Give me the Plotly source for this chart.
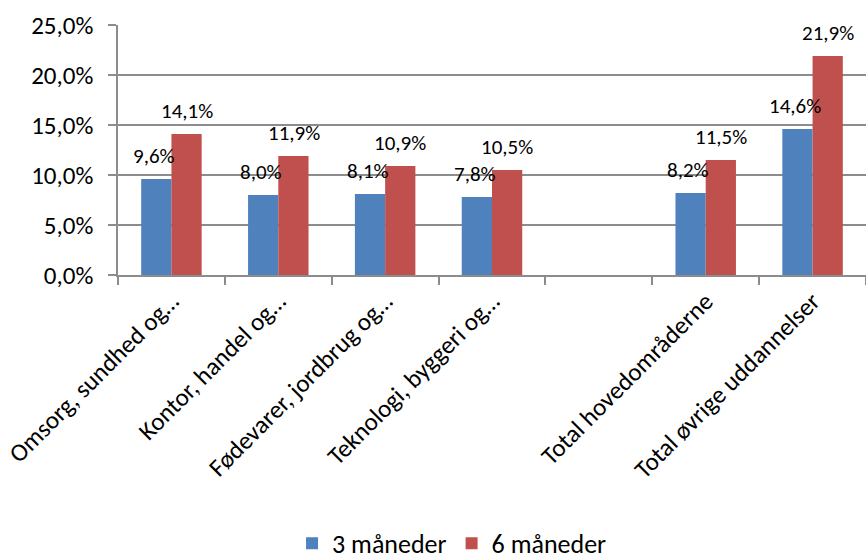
import plotly.graph_objects as go

categories = ["Omsorg, sundhed og…", "Kontor, handel og…", "Fødevarer, jordbrug og…",
              "Teknologi, byggeri og…", " ", "Total hovedområderne", "Total øvrige uddannelser"]
m3 = [9.6, 8.0, 8.1, 7.8, None, 8.2, 14.6]
m6 = [14.1, 11.9, 10.9, 10.5, None, 11.5, 21.9]
series_names = ["3 måneder", "6 måneder"]
colors = ["#4F81BD", "#C0504D"]

FONT = "Carlito, Lato, sans-serif"

def fmt(v):
    return ("%.1f%%" % v).replace(".", ",")

fig = go.Figure()
for name, vals, col in [(series_names[0], m3, colors[0]), (series_names[1], m6, colors[1])]:
    fig.add_trace(go.Bar(
        x=categories, y=vals, name=name, marker_color=col,
        marker_line_width=0,
    ))

# data labels, placed above each bar
BAR_HALF = 15.3
for vals, shift in [(m3, -BAR_HALF - 2), (m6, BAR_HALF)]:
    for c, v in zip(categories, vals):
        if v is None:
            continue
        fig.add_annotation(x=c, y=v, xref="x", yref="y", text=fmt(v),
                           showarrow=False, xshift=shift, yshift=23,
                           yanchor="middle", xanchor="center",
                           font=dict(family=FONT, size=21, color="#000000"))

yticks = [0, 5, 10, 15, 20, 25]
fig.update_layout(
    width=866, height=559,
    margin=dict(l=118, r=0, t=25, b=284, autoexpand=False),
    paper_bgcolor="white", plot_bgcolor="white",
    barmode="group", bargap=0.434, bargroupgap=0,
    font=dict(family=FONT, size=25, color="#000000"),
    showlegend=True,
    legend=dict(orientation="h", xref="container", yref="container",
                x=0.522, xanchor="center", y=0.028, yanchor="middle",
                font=dict(family=FONT, size=26), itemwidth=30,
                traceorder="normal"),
)
fig.update_yaxes(
    range=[0, 25], tickvals=yticks, ticktext=[fmt(v) for v in yticks],
    showgrid=True, gridcolor="#8C8C8C", gridwidth=1.5,
    showline=True, linecolor="#8C8C8C", linewidth=1.5,
    ticks="outside", ticklen=8, tickcolor="#8C8C8C", tickwidth=1.5,
    ticklabelstandoff=10,
    zeroline=False, tickfont=dict(size=25, family=FONT), automargin=False,
)
fig.update_xaxes(
    type="category", tickangle=-45, tickson="boundaries",
    showline=True, linecolor="#8C8C8C", linewidth=1.5,
    ticks="outside", ticklen=8, tickcolor="#8C8C8C", tickwidth=1.5,
    tickfont=dict(size=25, family=FONT), automargin=False,
)
fig.write_html("out.html", config={"displayModeBar": False},
               post_script="document.body.style.margin='0px';document.body.style.overflow='hidden';")
